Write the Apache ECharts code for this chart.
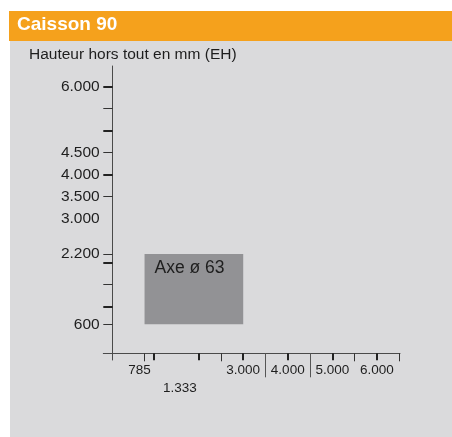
<!DOCTYPE html>
<html><head><meta charset="utf-8">
<script src="https://cdn.jsdelivr.net/npm/echarts@6/dist/echarts.min.js"></script>
<style>html,body{margin:0;padding:0;background:#fff}#c{width:452px;height:437px}</style>
</head><body><div id="c"></div>
<script>
// ---- data ----
const chartTitle = 'Caisson 90';
const yAxisTitle = 'Hauteur hors tout en mm (EH)';
const xLabelValues = [785, 3000, 4000, 5000, 6000];
const xSecondRowLabels = [1333];
const xThinTicks = [785, 2500, 5500, 6500];
const xThickTicks = [1000, 2000, 3000, 4000, 5000, 6000];
const xSeparators = [3500, 4500];
const yLabelValues = [600, 2200, 3000, 3500, 4000, 4500, 6000];
const yThinTicks = [600, 1500, 2200, 3500, 4500, 5500];
const yThickTicks = [1000, 2000, 4000, 5000, 6000];
const boxName = 'Axe ø 63';
const boxX = [785, 3000];
const boxY = [600, 2200];

// ---- chart ----
const fmt = v => String(v).replace(/\B(?=(\d{3})+(?!\d))/g, '.');
const X_MIN = -141, X_MAX = 6520, Y_MIN = -211, Y_MAX = 6470;
const narrow = "'Liberation Sans Narrow', 'Arial Narrow', 'Liberation Sans', sans-serif";
const sans = "'Liberation Sans', Arial, Helvetica, sans-serif";
const lineCol = '#4a4a4a';
const xFont = 13.5;

function xAx(extra) {
  return Object.assign({
    type: 'value', min: X_MIN, max: X_MAX, position: 'bottom', offset: -6.7,
    splitLine: { show: false },
    axisLine: { show: false, onZero: false },
    axisTick: { show: false },
    axisLabel: { show: false }
  }, extra);
}
function yAx(extra) {
  return Object.assign({
    type: 'value', min: Y_MIN, max: Y_MAX, position: 'left', offset: -9.4,
    splitLine: { show: false },
    axisLine: { show: false, onZero: false },
    axisTick: { show: false },
    axisLabel: { show: false }
  }, extra);
}

const chart = echarts.init(document.getElementById('c'), null, { renderer: 'canvas' });
chart.setOption({
  animation: false,
  backgroundColor: '#ffffff',
  graphic: [
    { type: 'rect', z: -10, shape: { x: 9, y: 11, width: 443, height: 30 }, style: { fill: '#F5A11C' } },
    { type: 'rect', z: -10, shape: { x: 10, y: 41, width: 442, height: 396 }, style: { fill: '#DADADC' } },
    { type: 'text', z: 10, x: 17, y: 25, style: { text: chartTitle, fill: '#ffffff', font: "bold 19px 'Liberation Sans', Arial, sans-serif", verticalAlign: 'middle' } },
    { type: 'text', z: 10, x: 29, y: 55, style: { text: yAxisTitle, fill: '#1e1e1e', font: "15.5px 'Liberation Sans', Arial, sans-serif", verticalAlign: 'middle' } }
  ],
  grid: { left: 103.3, right: 52, top: 66, bottom: 77, containLabel: false, outerBoundsMode: 'none' },
  xAxis: [
    xAx({
      axisLine: { show: true, onZero: false, lineStyle: { color: lineCol, width: 1 } },
      axisTick: { show: true, customValues: xThinTicks, length: 8, lineStyle: { color: '#333', width: 1 } },
      axisLabel: {
        show: true, customValues: xLabelValues, margin: 10, fontSize: xFont, fontFamily: narrow, color: '#1e1e1e',
        formatter: v => v === 785 ? '{l|' + fmt(v) + '}' : fmt(v),
        rich: { l: { padding: [0, 10, 0, 0], fontSize: xFont, fontFamily: narrow, color: '#1e1e1e' } }
      }
    }),
    xAx({ axisTick: { show: true, customValues: xThickTicks, length: 7, lineStyle: { color: '#222', width: 2 } } }),
    xAx({ axisTick: { show: true, customValues: xSeparators, length: 24, lineStyle: { color: '#555', width: 1 } } }),
    xAx({
      axisLabel: {
        show: true, customValues: xSecondRowLabels, margin: 28, fontSize: xFont, fontFamily: narrow, color: '#1e1e1e',
        formatter: v => '{s|' + fmt(v) + '}',
        rich: { s: { padding: [0, 0, 0, 22], fontSize: xFont, fontFamily: narrow, color: '#1e1e1e' } }
      }
    })
  ],
  yAxis: [
    yAx({
      axisLine: { show: true, onZero: false, lineStyle: { color: lineCol, width: 1 } },
      axisTick: { show: true, customValues: yThinTicks, length: 9.4, lineStyle: { color: '#333', width: 1 } },
      axisLabel: { show: true, customValues: yLabelValues, margin: 13, fontSize: 15.5, fontFamily: sans, color: '#1e1e1e', formatter: v => fmt(v) }
    }),
    yAx({ axisTick: { show: true, customValues: yThickTicks, length: 9.4, lineStyle: { color: '#222', width: 2 } } })
  ],
  series: [{
    type: 'custom', xAxisIndex: 0, yAxisIndex: 0, z: 5,
    data: [[boxX[0], boxX[1], boxY[0], boxY[1]]],
    renderItem: (params, api) => {
      const p0 = api.coord([api.value(0), api.value(3)]);
      const p1 = api.coord([api.value(1), api.value(2)]);
      return {
        type: 'rect',
        shape: { x: p0[0], y: p0[1], width: p1[0] - p0[0], height: p1[1] - p0[1] },
        style: { fill: '#929295' },
        textContent: { style: { text: boxName, fill: '#1e1e1e', font: "17.5px 'Liberation Sans', Arial, sans-serif" } },
        textConfig: { position: [10, 5] }
      };
    }
  }]
});
</script></body></html>
